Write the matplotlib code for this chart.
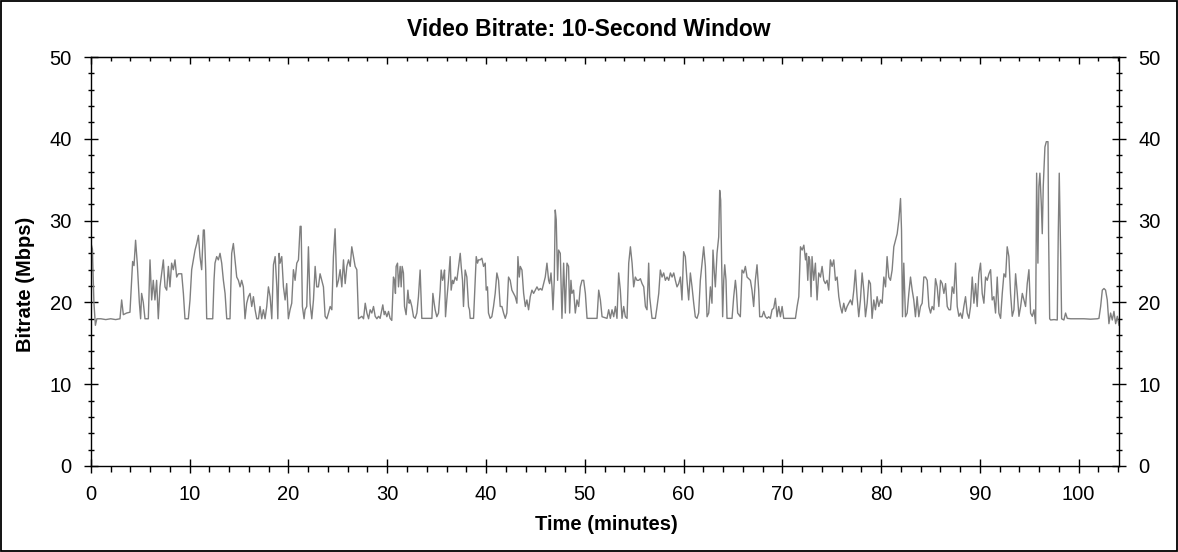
import matplotlib
matplotlib.use("Agg")
import matplotlib.pyplot as plt
from matplotlib.ticker import MultipleLocator

plt.rcParams['font.family'] = ['Liberation Sans', 'DejaVu Sans']

title = "Video Bitrate: 10-Second Window"
xlabel = "Time (minutes)"
ylabel = "Bitrate (Mbps)"

time_min = [
    0.05, 0.15, 0.30, 0.45, 0.60, 1.00, 1.50, 2.00, 2.50, 2.94, 3.11, 3.28, 3.61, 3.95, 4.22, 4.36, 4.52, 4.69,
    4.90, 5.03, 5.13, 5.30, 5.47, 5.81, 5.98, 6.15, 6.31, 6.48, 6.65, 6.82, 6.99, 7.33, 7.50, 7.67, 7.84, 8.00,
    8.17, 8.34, 8.51, 8.68, 8.85, 9.19, 9.36, 9.52, 9.86, 10.03, 10.20, 10.37, 10.54, 10.71, 10.88, 11.04, 11.21,
    11.38, 11.48, 11.62, 11.72, 12.33, 12.46, 12.56, 12.73, 12.90, 13.07, 13.24, 13.41, 13.58, 13.75, 14.08, 14.25,
    14.42, 14.59, 14.76, 14.93, 15.10, 15.26, 15.43, 15.60, 15.77, 15.94, 16.11, 16.28, 16.45, 16.62, 16.79, 16.96,
    17.12, 17.29, 17.46, 17.63, 17.80, 17.97, 18.14, 18.31, 18.48, 18.65, 18.82, 18.92, 19.05, 19.15, 19.32, 19.49,
    19.66, 19.82, 19.99, 20.16, 20.33, 20.50, 20.67, 20.84, 21.01, 21.18, 21.28, 21.41, 21.58, 21.68, 21.85, 22.02,
    22.19, 22.36, 22.53, 22.70, 22.86, 23.03, 23.20, 23.37, 23.54, 23.71, 23.88, 24.05, 24.22, 24.39, 24.55, 24.72,
    24.89, 25.06, 25.23, 25.40, 25.57, 25.74, 25.91, 26.08, 26.25, 26.41, 26.58, 26.75, 26.92, 27.09, 27.43, 27.60,
    27.77, 27.94, 28.11, 28.27, 28.44, 28.61, 28.78, 28.95, 29.12,
    29.28, 29.55, 29.69, 29.79, 29.96, 30.13, 30.29, 30.46, 30.63, 30.73, 30.83, 30.90, 31.04, 31.14, 31.31, 31.41,
    31.51, 31.64, 31.75, 31.91, 32.09, 32.22, 32.32, 32.49, 32.66, 32.83, 33.00, 33.16, 33.33, 33.50, 34.52, 34.62,
    34.75, 34.85, 35.02, 35.19, 35.36, 35.46, 35.60, 35.70, 35.80, 35.90, 36.03, 36.20, 36.37, 36.47, 36.61, 36.71,
    36.88, 37.05, 37.22, 37.39, 37.49, 37.62, 37.72, 37.89, 38.06, 38.23, 38.33, 38.40, 38.74, 38.91, 39.01, 39.14,
    39.24, 39.41, 39.58, 39.75, 39.92, 40.02, 40.15, 40.25, 40.42, 40.59, 40.76, 40.93, 41.10, 41.27, 41.44, 41.61,
    41.78, 41.95, 42.11, 42.28, 42.45, 42.62, 42.79, 42.96, 43.13, 43.23, 43.37, 43.47, 43.64, 43.81, 43.98, 44.14,
    44.31, 44.48, 44.65, 44.82, 44.99, 45.16, 45.33, 45.50, 45.67, 45.83, 46.00, 46.17, 46.34, 46.44, 46.58, 46.68,
    46.78, 46.91, 47.01, 47.11, 47.25, 47.35, 47.52, 47.69, 47.86, 48.03, 48.13, 48.20, 48.36, 48.47, 48.60, 48.70,
    48.87, 49.04, 49.21, 49.38, 49.55, 49.72, 49.89, 50.06, 50.23, 51.24, 51.41, 51.58, 51.75, 52.25, 52.42, 52.59,
    52.76, 52.93, 53.10, 53.26, 53.43, 53.60, 53.77, 53.94, 54.11, 54.28, 54.45, 54.62, 54.79, 54.95, 55.12, 55.29,
    55.46, 55.63, 55.80, 55.97, 56.14, 56.30, 56.47, 56.57, 56.81, 57.15, 57.32, 57.49, 57.65, 57.82, 57.99, 58.16,
    58.33, 58.50, 58.67, 58.84, 59.01, 59.17, 59.34, 59.51,
    59.68, 59.84, 60.01, 60.18, 60.35, 60.52, 60.69, 60.86, 61.03, 61.19, 61.36, 61.53, 61.70, 61.87, 62.04, 62.21,
    62.38, 62.55, 62.72, 62.88, 62.98, 63.12, 63.22, 63.39, 63.56, 63.66, 63.76, 63.86, 63.96, 64.07, 64.17, 64.30,
    64.40, 64.91, 65.08, 65.25, 65.35, 65.48, 65.75, 65.92, 66.09, 66.26, 66.43, 66.60, 66.77, 66.93, 67.10, 67.27,
    67.44, 67.61, 67.71, 67.95, 68.12, 68.29, 68.46, 68.62, 68.79, 68.96, 69.13, 69.30, 69.47, 69.64, 69.81, 69.98,
    70.14, 71.33, 71.50, 71.67, 71.84, 72.01, 72.18, 72.35, 72.45, 72.58, 72.68, 72.78, 72.91, 73.01, 73.18, 73.35,
    73.52, 73.69, 73.86, 74.03, 74.20, 74.36, 74.53, 74.70, 74.87, 75.04, 75.21, 75.38, 75.55, 75.72, 75.88, 76.05,
    76.22, 76.39, 76.56, 76.73, 76.90, 77.07, 77.24, 77.40, 77.57, 77.74, 77.91, 78.08, 78.25, 78.42, 78.59, 78.76,
    78.92, 79.09, 79.26, 79.43, 79.60, 79.77, 79.94, 80.11, 80.28, 80.45, 80.61, 80.78, 80.95, 81.12, 81.29, 81.46,
    81.63, 81.80, 81.97, 82.07, 82.17, 82.30, 82.47, 82.64, 82.81, 82.98, 83.15, 83.31, 83.48, 83.65, 83.82, 83.99,
    84.16, 84.33, 84.50, 84.67, 84.84, 85.01, 85.17, 85.34, 85.51, 85.68, 85.85, 86.02, 86.19, 86.36, 86.53, 86.70,
    86.87,
    87.03, 87.20, 87.37, 87.54, 87.71, 87.88, 88.04, 88.21, 88.38, 88.55, 88.72, 88.89, 89.06, 89.23, 89.40, 89.57,
    89.73, 89.90, 90.07, 90.24, 90.41, 90.58, 90.75, 90.92, 91.09, 91.25, 91.42, 91.59, 91.76, 91.93, 92.10, 92.27,
    92.44, 92.61, 92.77, 92.94, 93.11, 93.28, 93.45, 93.62, 93.79, 93.96, 94.13, 94.30, 94.46, 94.63, 94.80, 94.97,
    95.14, 95.31, 95.48, 95.65, 95.75, 95.88, 95.98, 96.08, 96.22, 96.32, 96.42, 96.59, 96.73, 96.90, 96.96, 97.07,
    97.17, 97.51, 97.84, 97.94, 98.04, 98.18, 98.28, 98.51, 98.68, 98.85, 99.19, 99.86, 100.54, 101.21, 101.89,
    102.06, 102.23, 102.40, 102.57, 102.73, 102.90, 103.07, 103.24, 103.41, 103.58, 103.75, 103.92, 104.09,
]

bitrate_mbps = [
    27.0, 26.5, 20.0, 17.2, 18.0, 18.0, 17.9, 18.0, 17.9, 18.0, 20.3, 18.5, 18.7, 18.8, 25.0, 24.5, 27.6, 24.8,
    20.0, 18.0, 21.1, 20.0, 18.0, 18.0, 25.2, 20.3, 22.7, 20.3, 22.7, 18.0, 21.9, 25.2, 21.9, 21.5, 24.4, 21.9,
    24.8, 24.0, 25.2, 23.1, 23.5, 23.5, 21.1, 18.0, 18.0, 20.3, 24.0, 25.2, 26.4, 27.2, 28.2, 25.6, 24.0,
    28.85, 28.85, 24.0, 18.0, 18.0, 22.7, 24.8, 25.6, 25.2, 26.0, 24.8, 22.7, 21.1, 18.0, 18.0, 26.0,
    27.2, 25.2, 23.1, 22.7, 21.9, 22.7, 21.9, 18.0, 19.9, 20.7, 21.1, 19.5, 20.7, 19.1, 18.0, 18.0,
    19.5, 18.0, 19.1, 18.0, 19.5, 21.9, 20.7, 18.0, 24.6, 25.6, 21.9, 18.0, 26.0, 24.8, 25.6, 21.9,
    20.3, 22.3, 18.0, 19.1, 19.9, 24.0, 22.7, 24.8, 25.2, 29.3, 29.3, 19.5, 18.0, 19.1, 19.5, 26.8,
    19.9, 18.0, 20.3, 24.4, 21.9, 21.9, 23.5, 22.7, 21.9, 18.3, 18.0, 18.7, 19.5, 19.1, 25.6, 29.0,
    21.9, 22.7, 24.0, 21.9, 25.2, 22.3, 24.4, 25.2, 24.4, 26.8, 25.6, 24.4, 24.0, 18.0, 18.3, 18.0,
    19.9, 18.7, 18.0, 19.1, 18.7, 19.5, 18.3, 18.0, 18.3,
    18.05, 19.7, 18.5, 18.9, 18.25, 18.9, 18.05, 17.8, 23.1, 22.7, 21.1, 24.4, 24.8, 21.9, 24.4, 21.9,
    24.4, 23.6, 19.5, 18.5, 21.5, 19.9, 20.3, 19.5, 18.25, 18.05, 18.7, 20.7, 23.96, 18.05, 18.05, 21.1,
    19.9, 19.1, 18.25, 18.7, 21.5, 23.96, 22.7, 23.1, 23.96, 18.25, 20.3, 22.7, 25.6, 21.5, 22.7, 22.3,
    23.1, 22.7, 24.4, 26.0, 24.4, 22.7, 19.5, 23.96, 23.1, 19.5, 19.1, 18.05, 18.05, 22.7, 25.6, 24.8,
    25.2, 25.2, 25.4, 24.4, 24.8, 21.5, 21.9, 18.7, 18.05, 18.25, 19.5, 21.1, 23.6, 22.7, 19.5, 19.5,
    18.7, 18.05, 18.7, 23.1, 22.7, 21.5, 21.1, 20.7, 19.9, 25.6, 23.1, 24.4, 23.96, 21.1, 19.5, 20.3,
    19.1, 20.7, 21.5, 21.1, 21.5, 21.9, 21.5, 21.7, 21.5, 22.3, 23.1, 24.8, 22.7, 22.3, 23.6, 21.9,
    19.1, 22.7, 31.3, 30.1, 22.7, 26.4, 26.0, 18.05, 24.8, 18.7, 22.7, 24.8, 24.4, 18.7, 22.7, 21.1,
    21.5, 18.7, 20.3, 19.5, 21.9, 22.7, 22.7, 21.1, 18.05, 18.05, 21.5, 20.3, 18.25, 18.05, 19.1, 18.05,
    19.1, 18.25, 19.5, 18.05, 23.6, 21.5, 18.05, 19.5, 18.25, 18.05, 24.8, 26.8, 24.8, 21.9, 23.1, 22.7,
    22.7, 22.9, 22.3, 21.9, 19.5, 19.1, 24.8, 20.7, 18.05, 18.05, 19.5, 21.1, 23.96, 23.1, 23.6, 22.7,
    23.1, 22.7, 23.6, 23.1, 23.6, 22.7, 21.9, 22.3,
    23.1, 20.3, 26.2, 25.6, 22.7, 20.3, 23.6, 21.9, 19.9, 18.25, 18.05, 18.7, 22.7, 24.8, 26.8, 24.4,
    18.25, 18.7, 21.9, 19.9, 26.4, 23.6, 21.9, 26.0, 28.0, 33.7, 32.5, 24.8, 18.25, 22.7, 24.6, 22.7,
    18.05, 18.05, 20.7, 22.7, 21.5, 18.7, 18.25, 23.96, 23.6, 24.4, 23.1, 22.9, 22.7, 21.5, 19.5, 22.7,
    24.6, 21.5, 18.25, 18.25, 18.9, 18.25, 18.05, 18.25, 18.05, 19.1, 19.3, 20.5, 18.25, 19.5, 18.25, 19.5,
    18.05, 18.05, 19.5, 20.7, 26.8, 26.4, 27.0, 25.2, 26.0, 22.7, 25.6, 25.2, 20.7, 25.6, 22.7, 24.8,
    20.3, 23.6, 23.1, 24.4, 22.7, 22.3, 22.7, 21.5, 25.2, 24.4, 25.2, 22.7, 23.1, 20.7, 19.5, 18.7,
    19.9, 18.9, 19.5, 19.9, 20.3, 19.7, 21.5, 23.96, 20.7, 18.25, 20.3, 23.6, 21.5, 18.25, 19.9, 22.7,
    22.3, 18.05, 20.3, 19.1, 20.7, 19.5, 20.3, 19.9, 23.1, 21.9, 25.6, 23.1, 22.7, 23.96, 26.8, 27.6,
    28.4, 30.1, 32.7, 28.85, 18.25, 24.8, 18.25, 18.7, 21.1, 23.1, 21.5, 20.3, 18.25, 20.7, 18.25, 19.5,
    19.9, 23.1, 23.1, 22.7, 19.5, 18.7, 19.5, 19.1, 22.9, 21.9, 19.5, 22.7, 22.3, 21.1, 22.3, 19.5,
    19.1,
    19.1, 21.9, 21.1, 24.8, 19.5, 18.3, 18.7, 18.05, 19.5, 20.7, 18.7, 18.05, 19.5, 23.1, 19.9, 22.3,
    19.5, 23.5, 24.8, 21.1, 19.9, 23.1, 22.7, 23.5, 24.0, 20.3, 20.7, 18.7, 23.1, 18.7, 18.05, 21.1,
    23.5, 23.1, 26.8, 25.6, 21.1, 18.3, 19.1, 23.5, 21.1, 18.3, 19.5, 21.1, 20.3, 19.5, 22.3, 24.0,
    18.7, 18.3, 19.1, 17.4, 35.8, 24.8, 34.2, 35.8, 32.1, 28.4, 34.2, 39.0, 39.65, 39.65, 28.4, 18.0,
    17.85, 17.9, 17.85, 28.4, 35.8, 26.0, 18.0, 17.85, 18.7, 18.05, 18.0, 18.0, 18.0, 17.95, 18.0,
    18.05, 19.5, 21.5, 21.7, 21.5, 20.3, 17.4, 18.7, 17.85, 18.9, 17.4, 18.3, 17.2,
]

x_major = [0, 10, 20, 30, 40, 50, 60, 70, 80, 90, 100]
y_major = [0, 10, 20, 30, 40, 50]

fig = plt.figure(figsize=(11.78, 5.52), dpi=100)
ax = fig.add_axes([0.0772, 0.1558, 0.8728, 0.7409])

ax.plot(time_min, bitrate_mbps, color='#7f7f7f', lw=1.0)

ax.set_xlim(0, 104.1)
ax.set_ylim(0, 50)
ax.set_xticks(x_major)
ax.set_yticks(y_major)
ax.xaxis.set_minor_locator(MultipleLocator(2))
ax.yaxis.set_minor_locator(MultipleLocator(2))

for s in ax.spines.values():
    s.set_linewidth(1.0)

ax.tick_params(axis='x', which='major', direction='inout', length=10, width=1.0,
               labelsize=14.5, pad=8.5, top=False)
ax.tick_params(axis='x', which='minor', direction='out', length=4.3, width=1.0, top=False)
ax.tick_params(axis='y', which='major', direction='inout', length=9.5, width=1.0,
               labelsize=14.5, pad=9, left=True, right=True, labelright=True)
ax.tick_params(axis='y', which='minor', direction='inout', length=5, width=1.0,
               left=True, right=True)

top = ax.secondary_xaxis('top')
top.set_xticks(x_major)
top.xaxis.set_minor_locator(MultipleLocator(2))
top.tick_params(which='major', direction='in', length=5, width=1.0, labeltop=False)
top.tick_params(which='minor', direction='in', length=3, width=1.0)

fig.text(0.5, 0.947, title, ha='center', va='center', fontsize=16.5, fontweight='bold')
fig.text(0.515, 0.05, xlabel, ha='center', va='center', fontsize=14.5, fontweight='bold')
fig.text(0.022, 0.485, ylabel, ha='center', va='center', rotation=90, fontsize=14.5, fontweight='bold')

fig.add_artist(plt.Rectangle((0.0008, 0.0015), 0.9984, 0.997, transform=fig.transFigure,
                             fill=False, lw=1.3, edgecolor='black'))

fig.savefig('out.png', dpi=100)
